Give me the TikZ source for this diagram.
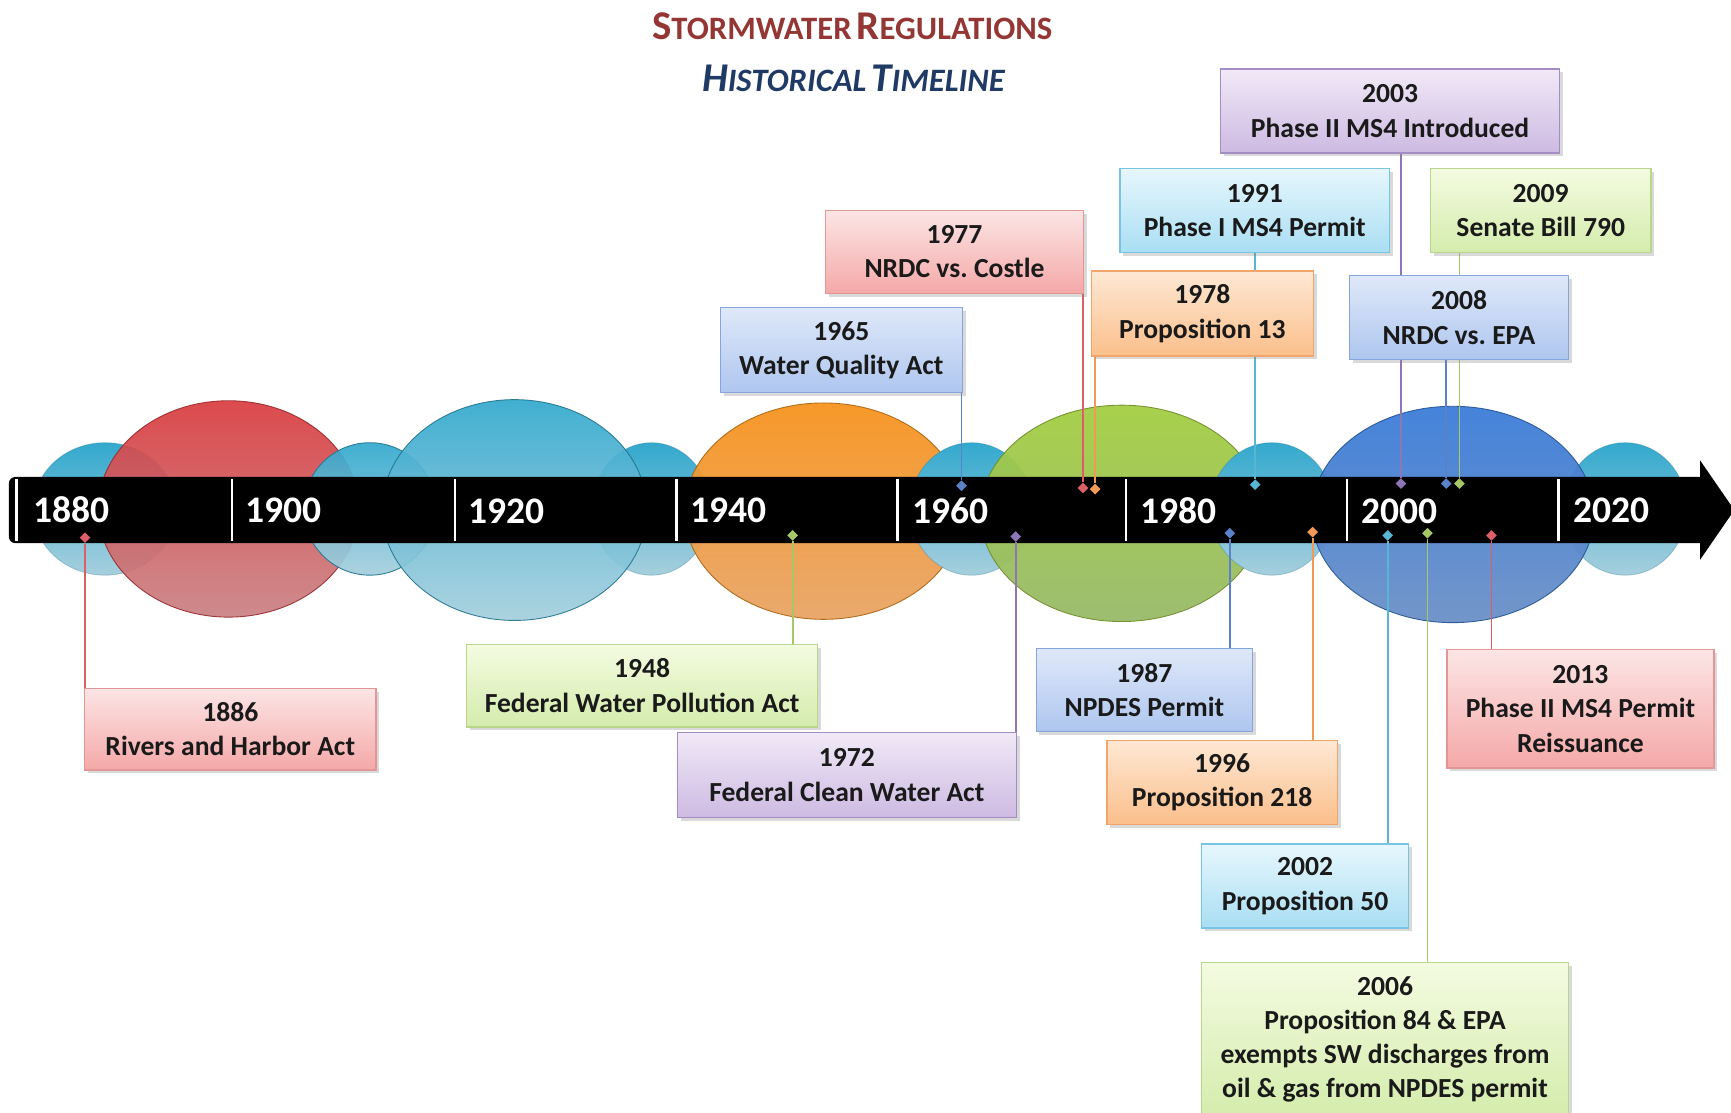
\documentclass[tikz,border=0pt]{standalone}
\usepackage{fontspec}
\setmainfont{Carlito}
\usetikzlibrary{shapes.geometric,shadows}
\frenchspacing

\definecolor{evtext}{HTML}{1A1A1A}
\definecolor{ttlred}{HTML}{943634}
\definecolor{ttlblue}{HTML}{1F3A64}
% bubble colours
\definecolor{tealtop}{HTML}{33A9CE}
\definecolor{tealbot}{HTML}{A6CFDD}
\definecolor{rbubtop}{HTML}{D93D40}
\definecolor{rbubbot}{HTML}{C98284}
\definecolor{obubtop}{HTML}{F7941E}
\definecolor{obubbot}{HTML}{E8A466}
\definecolor{gbubtop}{HTML}{A3CD42}
\definecolor{gbubbot}{HTML}{98BA68}
\definecolor{bbubtop}{HTML}{3B7CD8}
\definecolor{bbubbot}{HTML}{6B90C6}
% box colours
\definecolor{redtop}{HTML}{FCE5E5}
\definecolor{redbot}{HTML}{F5A8A8}
\definecolor{redbd}{HTML}{E39696}
\definecolor{redln}{HTML}{DA5F68}
\definecolor{grntop}{HTML}{F4FBE1}
\definecolor{grnbot}{HTML}{D4ECAC}
\definecolor{grnbd}{HTML}{B8D78C}
\definecolor{grnln}{HTML}{A5C766}
\definecolor{blutop}{HTML}{DFE8F9}
\definecolor{blubot}{HTML}{AEC6EF}
\definecolor{blubd}{HTML}{86A5DB}
\definecolor{bluln}{HTML}{5A82C8}
\definecolor{purtop}{HTML}{F1E9F7}
\definecolor{purbot}{HTML}{CDBAE2}
\definecolor{purbd}{HTML}{A28DC4}
\definecolor{purln}{HTML}{8C76B6}
\definecolor{orgtop}{HTML}{FEE8D4}
\definecolor{orgbot}{HTML}{FBBF8B}
\definecolor{orgbd}{HTML}{F1A56A}
\definecolor{orgln}{HTML}{F29A55}
\definecolor{cyntop}{HTML}{E7F7FD}
\definecolor{cynbot}{HTML}{A9DEF3}
\definecolor{cynbd}{HTML}{77C4E3}
\definecolor{cynln}{HTML}{58B6D4}

\newcommand{\tlsc}[2]{{\fontsize{18.5}{18.5}\selectfont #1}{\fontsize{14.8}{14.8}\selectfont #2}}

\pgfdeclarelayer{back}
\pgfdeclarelayer{lines}
\pgfsetlayers{back,lines,main}

\tikzset{
  evbox/.style={rectangle, anchor=north west, align=center, inner sep=0pt,
    font=\fontsize{12.5}{15.5}\selectfont\bfseries, text=evtext, line width=0.6pt,
    drop shadow={shadow xshift=1.5pt, shadow yshift=-1.5pt, opacity=0.3}},
  redbox/.style={evbox, draw=redbd, top color=redtop, bottom color=redbot},
  grnbox/.style={evbox, draw=grnbd, top color=grntop, bottom color=grnbot},
  blubox/.style={evbox, draw=blubd, top color=blutop, bottom color=blubot},
  purbox/.style={evbox, draw=purbd, top color=purtop, bottom color=purbot},
  orgbox/.style={evbox, draw=orgbd, top color=orgtop, bottom color=orgbot},
  cynbox/.style={evbox, draw=cynbd, top color=cyntop, bottom color=cynbot},
  evdot/.style={diamond, inner sep=0pt, minimum size=5pt},
  evline/.style={line width=0.8pt},
  yearlbl/.style={anchor=base west, inner sep=0pt, text=white,
    font=\fontsize{17}{17}\selectfont\bfseries},
  tick/.style={white, line width=1.2pt},
  ttl/.style={anchor=base, inner sep=0pt, font=\bfseries}
}

\begin{document}
\begin{tikzpicture}[x=0.5pt, y=-0.5pt]

  \useasboundingbox (0,0) rectangle (1568,1008);

  % title
  \node[ttl, text=ttlred] (ttl1) at (772,36) {\tlsc{S}{TORMWATER} \tlsc{R}{EGULATIONS}};
  \node[ttl, text=ttlblue, font=\bfseries\itshape] (ttl2) at (773,83) {\tlsc{H}{ISTORICAL} \tlsc{T}{IMELINE}};

  \begin{pgfonlayer}{back}
  % bubbles behind the bar
  \shade[top color=tealtop, bottom color=tealbot, draw=tealtop!70!black, draw opacity=0.3] (95,461) ellipse [x radius=32.5pt, y radius=30pt];
  \shade[top color=rbubtop, bottom color=rbubbot, draw=rbubtop!70!black, draw opacity=0.3, opacity=0.93] (207,461) ellipse [x radius=59pt, y radius=49pt];
  \shade[top color=tealtop, bottom color=tealbot, draw=tealtop!70!black, draw opacity=0.3, opacity=0.93] (335,461) ellipse [x radius=30pt, y radius=30pt];
  \shade[top color=tealtop, bottom color=tealbot, draw=tealtop!70!black, draw opacity=0.3] (590,461) ellipse [x radius=27pt, y radius=30pt];
  \shade[top color=tealtop, bottom color=tealbot, draw=tealtop!70!black, draw opacity=0.3, opacity=0.93] (466,462) ellipse [x radius=60pt, y radius=50pt];
  \shade[top color=obubtop, bottom color=obubbot, draw=obubtop!70!black, draw opacity=0.3, opacity=0.95] (746,463) ellipse [x radius=63pt, y radius=49pt];
  \shade[top color=tealtop, bottom color=tealbot, draw=tealtop!70!black, draw opacity=0.3] (880,461) ellipse [x radius=28pt, y radius=30pt];
  \shade[top color=gbubtop, bottom color=gbubbot, draw=gbubtop!70!black, draw opacity=0.3, opacity=0.95] (1016,465) ellipse [x radius=64pt, y radius=49pt];
  \shade[top color=tealtop, bottom color=tealbot, draw=tealtop!70!black, draw opacity=0.3] (1152,461) ellipse [x radius=28pt, y radius=30pt];
  \shade[top color=tealtop, bottom color=tealbot, draw=tealtop!70!black, draw opacity=0.3] (1472,461) ellipse [x radius=28pt, y radius=30pt];
  \shade[top color=bbubtop, bottom color=bbubbot, draw=bbubtop!70!black, draw opacity=0.3, opacity=0.95] (1316,466) ellipse [x radius=64pt, y radius=49pt];

  % the time bar
  \fill[black, rounded corners=3pt] (8,432) rectangle (1545,492);
  \fill[black] (1540,417) -- (1571,462) -- (1540,507) -- cycle;
  \draw[tick] (15,434) -- (15,490);
  \draw[tick] (210,434) -- (210,490);
  \draw[tick] (412,434) -- (412,490);
  \draw[tick] (613,434) -- (613,490);
  \draw[tick] (813,434) -- (813,490);
  \draw[tick] (1020,434) -- (1020,490);
  \draw[tick] (1220,434) -- (1220,490);
  \draw[tick] (1412,434) -- (1412,490);

  \node[yearlbl] (y1880) at (30,473) {1880};
  \node[yearlbl] (y1900) at (222,473) {1900};
  \node[yearlbl] (y1920) at (424,474) {1920};
  \node[yearlbl] (y1940) at (625,473) {1940};
  \node[yearlbl] (y1960) at (826,474) {1960};
  \node[yearlbl] (y1980) at (1033,474) {1980};
  \node[yearlbl] (y2000) at (1233,474) {2000};
  \node[yearlbl] (y2020) at (1425,473) {2020};
  \end{pgfonlayer}

  % events above the bar
  \node[purbox, minimum width=153.5pt, minimum height=38pt] (b2003) at (1105,62) {2003\\Phase II MS4 Introduced};
  \node[cynbox, minimum width=122pt, minimum height=38pt] (b1991) at (1014,152) {1991\\Phase I MS4 Permit};
  \node[grnbox, minimum width=100pt, minimum height=38pt] (b2009) at (1295,152) {2009\\Senate Bill 790};
  \node[redbox, minimum width=117pt, minimum height=37.5pt] (b1977) at (747,190) {1977\\NRDC vs. Costle};
  \node[orgbox, minimum width=100.5pt, minimum height=38.5pt] (b1978) at (988,245) {1978\\Proposition 13};
  \node[blubox, minimum width=99pt, minimum height=38pt] (b2008) at (1222,249) {2008\\NRDC vs. EPA};
  \node[blubox, minimum width=109.5pt, minimum height=38.5pt] (b1965) at (652,278) {1965\\Water Quality Act};

  % events below the bar
  \node[grnbox, minimum width=159pt, minimum height=37.5pt] (b1948) at (422,583) {1948\\Federal Water Pollution Act};
  \node[blubox, minimum width=98pt, minimum height=37.5pt] (b1987) at (938,587) {1987\\NPDES Permit};
  \node[redbox, minimum width=121pt, minimum height=53.5pt] (b2013) at (1310,588) {2013\\Phase II MS4 Permit\\Reissuance};
  \node[redbox, minimum width=132pt, minimum height=37pt] (b1886) at (76,623) {1886\\Rivers and Harbor Act};
  \node[purbox, minimum width=153.5pt, minimum height=38.5pt] (b1972) at (613,663) {1972\\Federal Clean Water Act};
  \node[orgbox, minimum width=104.5pt, minimum height=38pt] (b1996) at (1002,670) {1996\\Proposition 218};
  \node[cynbox, minimum width=93.5pt, minimum height=38pt] (b2002) at (1088,764) {2002\\Proposition 50};
  \node[grnbox, minimum width=166pt, minimum height=70pt] (b2006) at (1088,871) {2006\\Proposition 84 \& EPA\\exempts SW discharges from\\oil \& gas from NPDES permit};

  \begin{pgfonlayer}{lines}
  \node[evdot, fill=redln] (m1886) at (77,487) {};
  \node[evdot, fill=grnln] (m1948) at (718,485) {};
  \node[evdot, fill=bluln] (m1965) at (871,440) {};
  \node[evdot, fill=purln] (m1972) at (920,486) {};
  \node[evdot, fill=redln] (m1977) at (981,442) {};
  \node[evdot, fill=orgln] (m1978) at (992,443) {};
  \node[evdot, fill=bluln] (m1987) at (1114,483) {};
  \node[evdot, fill=cynln] (m1991) at (1137,439) {};
  \node[evdot, fill=orgln] (m1996) at (1189,482) {};
  \node[evdot, fill=cynln] (m2002) at (1257,485) {};
  \node[evdot, fill=purln] (m2003) at (1269,438) {};
  \node[evdot, fill=grnln] (m2006) at (1293,483) {};
  \node[evdot, fill=bluln] (m2008) at (1310,438) {};
  \node[evdot, fill=grnln] (m2009) at (1322,438) {};
  \node[evdot, fill=redln] (m2013) at (1351,485) {};

  \draw[evline, redln] (m1886) -- (m1886 |- b1886.north);
  \draw[evline, grnln] (m1948) -- (m1948 |- b1948.north);
  \draw[evline, bluln] (m1965) -- (m1965 |- b1965.south);
  \draw[evline, purln] (m1972) -- (m1972 |- b1972.north);
  \draw[evline, redln] (m1977) -- (m1977 |- b1977.south);
  \draw[evline, orgln] (m1978) -- (m1978 |- b1978.south);
  \draw[evline, bluln] (m1987) -- (m1987 |- b1987.north);
  \draw[evline, cynln] (m1991) -- (m1991 |- b1991.south);
  \draw[evline, orgln] (m1996) -- (m1996 |- b1996.north);
  \draw[evline, cynln] (m2002) -- (m2002 |- b2002.north);
  \draw[evline, purln] (m2003) -- (m2003 |- b2003.south);
  \draw[evline, grnln] (m2006) -- (m2006 |- b2006.north);
  \draw[evline, bluln] (m2008) -- (m2008 |- b2008.south);
  \draw[evline, grnln] (m2009) -- (m2009 |- b2009.south);
  \draw[evline, redln] (m2013) -- (m2013 |- b2013.north);
  \end{pgfonlayer}

\end{tikzpicture}
\end{document}
